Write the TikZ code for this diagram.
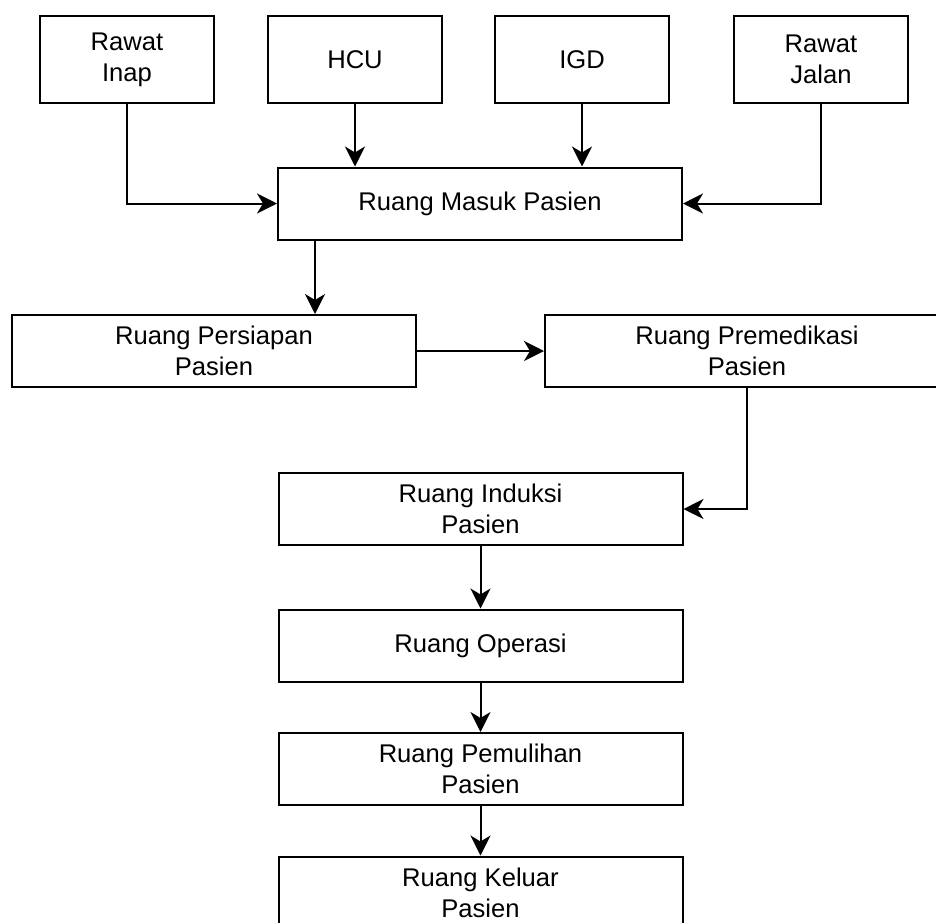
\documentclass[tikz,border=0pt]{standalone}
\usepackage{fontspec}
\setmainfont{Liberation Sans}
\usepackage{tikz}
\usetikzlibrary{arrows.meta}

\begin{document}
\begin{tikzpicture}[x=0.5pt,y=-0.5pt,
  box/.style={draw,line width=1pt,align=center,inner sep=0pt,
    font=\fontsize{12.8}{15.4}\selectfont},
  srcbox/.style={box,minimum width=87pt,minimum height=43.5pt},
  ruangbox/.style={box,minimum width=202pt,minimum height=36pt},
  arr/.style={line width=1pt,-{Stealth[length=10pt,width=10pt,inset=3pt]}}]
\useasboundingbox (0,0) rectangle (936,922);
\clip (0,0) rectangle (936,922);
\node[srcbox] (inap) at (127,59.5) {Rawat\\Inap};
\node[srcbox] (hcu) at (355,59.5) {HCU};
\node[srcbox] (igd) at (582,59.5) {IGD};
\node[srcbox] (jalan) at (821,59.5) {Rawat\\Jalan};
\node[ruangbox] (masuk) at (480,203.5) {Ruang Masuk Pasien};
\node[ruangbox] (persiapan) at (214,351) {Ruang Persiapan\\Pasien};
\node[ruangbox] (premed) at (747,351) {Ruang Premedikasi\\Pasien};
\node[ruangbox] (induksi) at (480.5,509) {Ruang Induksi\\Pasien};
\node[ruangbox] (operasi) at (480.5,645.5) {Ruang Operasi};
\node[ruangbox] (pemulihan) at (480.5,769) {Ruang Pemulihan\\Pasien};
\node[ruangbox] (keluar) at (480.5,892.5) {Ruang Keluar\\Pasien};
\draw[arr] (inap.south) |- (masuk.west);
\draw[arr] (hcu.south) -- (hcu.south |- masuk.north);
\draw[arr] (igd.south) -- (igd.south |- masuk.north);
\draw[arr] (jalan.south) |- (masuk.east);
\draw[arr] ([xshift=19pt]masuk.south west) -- ([xshift=19pt]masuk.south west |- persiapan.north);
\draw[arr] (persiapan.east) -- (premed.west);
\draw[arr] (premed.south) |- (induksi.east);
\draw[arr] (induksi.south) -- (operasi.north);
\draw[arr] (operasi.south) -- (pemulihan.north);
\draw[arr] (pemulihan.south) -- (keluar.north);
\end{tikzpicture}
\end{document}
